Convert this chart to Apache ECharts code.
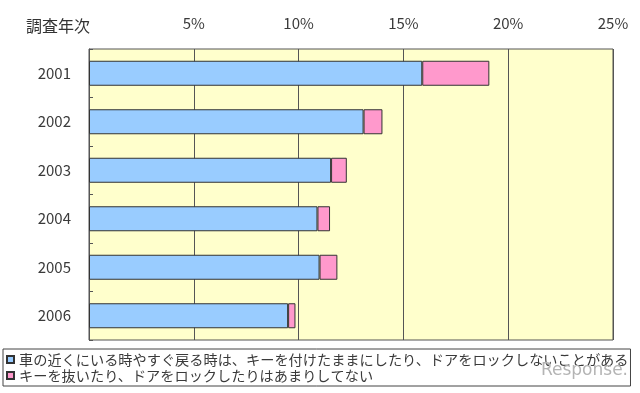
<!DOCTYPE html>
<html>
<head>
<meta charset="utf-8">
<script src="https://cdn.jsdelivr.net/npm/echarts@6/dist/echarts.min.js"></script>
<style>
html,body{margin:0;padding:0;background:#fff;}
#chart{width:640px;height:393px;}
</style>
</head>
<body>
<div id="chart"></div>
<script>
const categories = ['2001', '2002', '2003', '2004', '2005', '2006'];
const seriesNames = [
  '車の近くにいる時やすぐ戻る時は、キーを付けたままにしたり、ドアをロックしないことがある',
  'キーを抜いたり、ドアをロックしたりはあまりしてない'
];
const nearCarValues = [15.9, 13.1, 11.55, 10.9, 11.0, 9.5];
const lockValues = [3.2, 0.9, 0.75, 0.6, 0.85, 0.35];
const axisTitle = '調査年次';

const FONT = '"Noto Sans CJK JP", "Noto Sans", sans-serif';
const chart = echarts.init(document.getElementById('chart'), null, {renderer: 'canvas'});
chart.setOption({
  animation: false,
  backgroundColor: '#ffffff',
  textStyle: {fontFamily: FONT},
  title: {
    text: axisTitle,
    left: 26, top: 18,
    padding: 0,
    textStyle: {fontFamily: FONT, fontSize: 16, fontWeight: 'normal', color: '#333'}
  },
  grid: {
    left: 89, right: 27, top: 49, bottom: 53,
    show: true,
    backgroundColor: '#FFFFCC',
    borderColor: '#555',
    borderWidth: 1
  },
  legend: {
    orient: 'vertical',
    left: 3, top: 349,
    padding: [3, 2, 3, 3],
    itemGap: 1,
    itemWidth: 7, itemHeight: 7,
    icon: 'rect',
    borderColor: '#444', borderWidth: 1,
    backgroundColor: '#fff',
    textStyle: {fontFamily: FONT, fontSize: 14.2, color: '#3a3a3a', lineHeight: 15},
    data: seriesNames
  },
  xAxis: {
    type: 'value',
    position: 'top',
    min: 0, max: 25, interval: 5,
    axisLine: {show: false},
    axisTick: {show: false},
    splitLine: {show: true, lineStyle: {color: '#555', width: 1}},
    axisLabel: {
      margin: 18,
      fontSize: 15, color: '#3a3a3a', fontFamily: FONT,
      formatter: function (v) { return v === 0 ? '' : v + '%'; }
    }
  },
  yAxis: {
    type: 'category',
    inverse: true,
    data: categories,
    axisLine: {show: true, lineStyle: {color: '#555'}},
    axisTick: {show: true, inside: true, length: 4, lineStyle: {color: '#555'}},
    axisLabel: {margin: 18, fontSize: 15, color: '#3a3a3a', fontFamily: FONT}
  },
  series: [
    {
      name: seriesNames[0],
      type: 'bar',
      stack: 'total',
      barWidth: 25,
      data: nearCarValues,
      itemStyle: {color: '#99CCFF', borderColor: '#333', borderWidth: 1}
    },
    {
      name: seriesNames[1],
      type: 'bar',
      stack: 'total',
      barWidth: 25,
      data: lockValues,
      itemStyle: {color: '#FF99CC', borderColor: '#333', borderWidth: 1}
    }
  ],
  graphic: [{
    type: 'text',
    right: 12, top: 362,
    z: 100,
    silent: true,
    style: {text: 'Response.', fontFamily: 'DejaVu Sans, sans-serif', fontSize: 17, fill: '#b4b4b4'}
  }]
});
</script>
</body>
</html>
